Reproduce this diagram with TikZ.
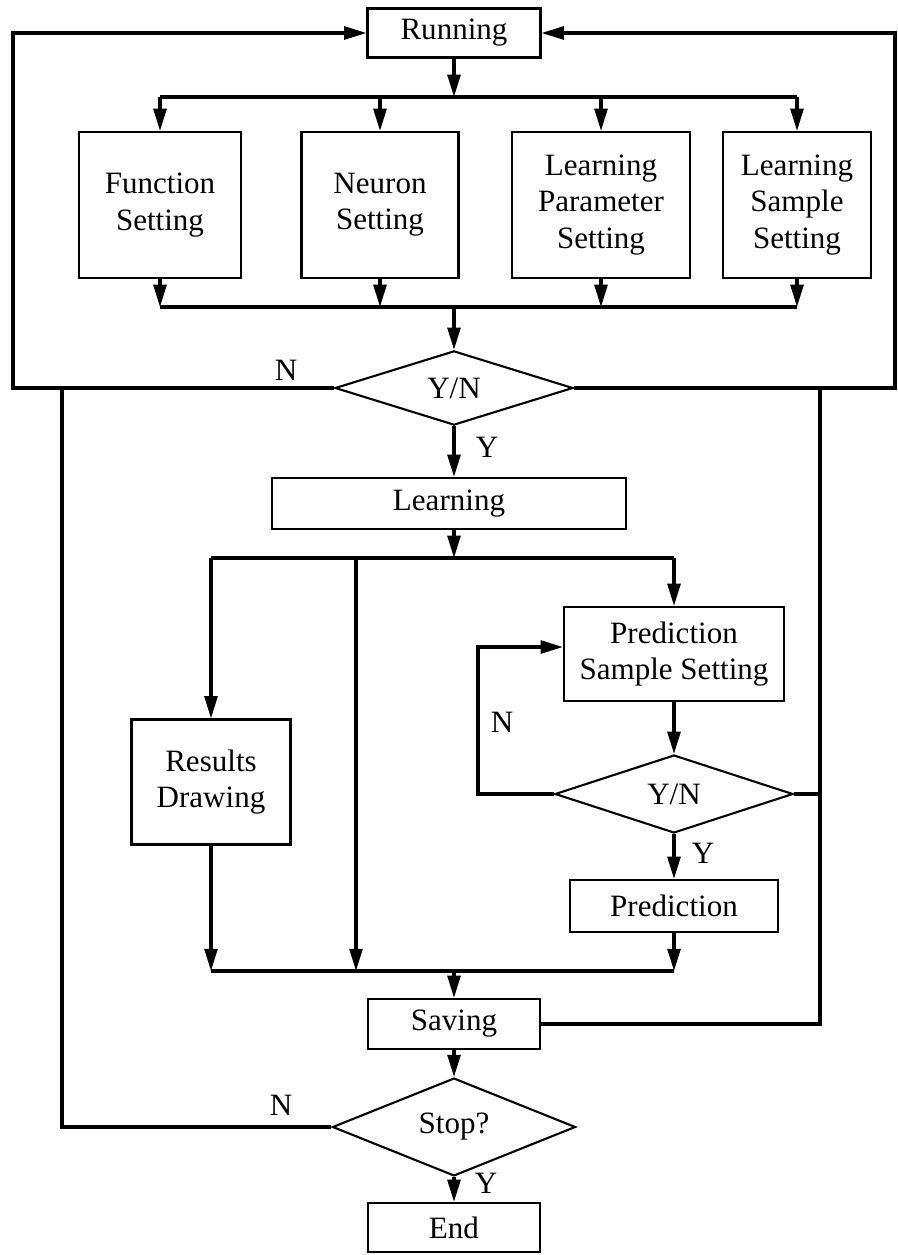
\documentclass[tikz,border=0pt]{standalone}
\usepackage{fontspec}
\setmainfont{Liberation Serif}
\usetikzlibrary{arrows.meta,shapes.geometric,calc}
\tikzset{
  blk/.style={draw, line width=1.8pt, align=center, inner sep=0pt},
  dec/.style={draw, diamond, line width=1.8pt, inner sep=0pt},
  ln/.style={line width=2.6pt, line join=miter},
  arr/.style={ln, -{Triangle[length=19pt,width=11pt]}},
  lbl/.style={inner sep=0pt}
}
\begin{document}
\begin{tikzpicture}[x=0.03cm,y=-0.03cm,font=\fontsize{26.5}{31}\selectfont]
    \useasboundingbox (0,0) rectangle (898,1255);

    % Blocos
    \node[blk, minimum width=5.19cm, minimum height=1.47cm] (run) at (454,33) {Running};
    \node[blk, minimum width=4.86cm, minimum height=4.38cm] (fun) at (160,205) {Function\\Setting};
    \node[blk, minimum width=4.71cm, minimum height=4.38cm] (neu) at (380,205) {Neuron\\Setting};
    \node[blk, minimum width=5.34cm, minimum height=4.38cm] (lpar) at (601,205) {Learning\\Parameter\\Setting};
    \node[blk, minimum width=4.44cm, minimum height=4.38cm] (lsam) at (797,205) {Learning\\Sample\\Setting};
    \node[dec, minimum width=7.14cm, minimum height=2.16cm] (yn1) at (454,388) {Y/N};
    \node[blk, minimum width=10.6cm, minimum height=1.53cm] (learn) at (449,503.5) {Learning};
    \node[blk, minimum width=4.77cm, minimum height=3.75cm] (res) at (211,782) {Results\\Drawing};
    \node[blk, minimum width=6.6cm, minimum height=2.82cm] (pss) at (674,654) {Prediction\\Sample Setting};
    \node[dec, minimum width=7.14cm, minimum height=2.34cm] (yn2) at (674,794) {Y/N};
    \node[blk, minimum width=6.24cm, minimum height=1.56cm] (pred) at (674,906) {Prediction};
    \node[blk, minimum width=5.16cm, minimum height=1.5cm] (save) at (454,1024) {Saving};
    \node[dec, minimum width=7.29cm, minimum height=2.16cm] (stop) at (454,1127) {Stop?};
    \node[blk, minimum width=5.16cm, minimum height=1.47cm] (endb) at (454,1227.5) {End};

    % Pontos
    \coordinate (tl) at (13,33);
    \coordinate (bl) at (13,388);
    \coordinate (tr) at (895,33);
    \coordinate (br) at (895,388);
    \coordinate (s1) at (454,97);
    \coordinate (m1) at (454,307);
    \coordinate (s2) at (454,558);
    \coordinate (mid) at (356,558);
    \coordinate (m2) at (454,971);
    \coordinate (nl) at (478,794);
    \coordinate (nt) at (478,647);
    \coordinate (lt) at (62,388);
    \coordinate (ll) at (62,1127);
    \coordinate (rt) at (820,388);
    \coordinate (rb) at (820,1024);

    % Ligações
    \draw[arr] (yn1.west) -- (bl) -- (tl) -- (run.west);
    \draw[arr] (yn1.east) -- (br) -- (tr) -- (run.east);
    \draw[arr] (run.south) -- (s1);
    \draw[ln] (s1 -| fun.north) -- (s1 -| lsam.north);
    \draw[ln] (m1 -| fun.south) -- (m1 -| lsam.south);
    \foreach \b in {fun,neu,lpar,lsam} {
        \draw[arr] (s1 -| \b.north) -- (\b.north);
        \draw[arr] (\b.south) -- (m1 -| \b.south);
    }
    \draw[arr] (m1) -- (yn1.north);
    \draw[arr] (yn1.south) -- (yn1.south |- learn.north);

    \draw[arr] (s2 |- learn.south) -- (s2);
    \draw[ln] (s2 -| res.north) -- (s2 -| pss.north);
    \draw[arr] (s2 -| res.north) -- (res.north);
    \draw[arr] (s2 -| pss.north) -- (pss.north);
    \draw[arr] (mid) -- (mid |- m2);
    \draw[arr] (pss.south) -- (yn2.north);
    \draw[arr] (yn2.west) -- (nl) -- (nt) -- (nt -| pss.west);
    \draw[arr] (yn2.south) -- (pred.north);
    \draw[ln] (yn2.east) -- (yn2.east -| rt);

    \draw[ln] (m2 -| res.south) -- (m2 -| pred.south);
    \draw[arr] (res.south) -- (m2 -| res.south);
    \draw[arr] (pred.south) -- (m2 -| pred.south);
    \draw[arr] (m2) -- (save.north);
    \draw[ln] (save.east) -- (rb) -- (rt);
    \draw[arr] (save.south) -- (stop.north);
    \draw[ln] (stop.west) -- (ll) -- (lt);
    \draw[arr] (stop.south) -- (endb.north);

    % Rótulos
    \node[lbl] (n1) at (286,370) {N};
    \node[lbl] (y1) at (487,447) {Y};
    \node[lbl] (n2) at (502,722) {N};
    \node[lbl] (y2) at (703,853) {Y};
    \node[lbl] (n3) at (281,1105) {N};
    \node[lbl] (y3) at (486,1183) {Y};
\end{tikzpicture}
\end{document}
